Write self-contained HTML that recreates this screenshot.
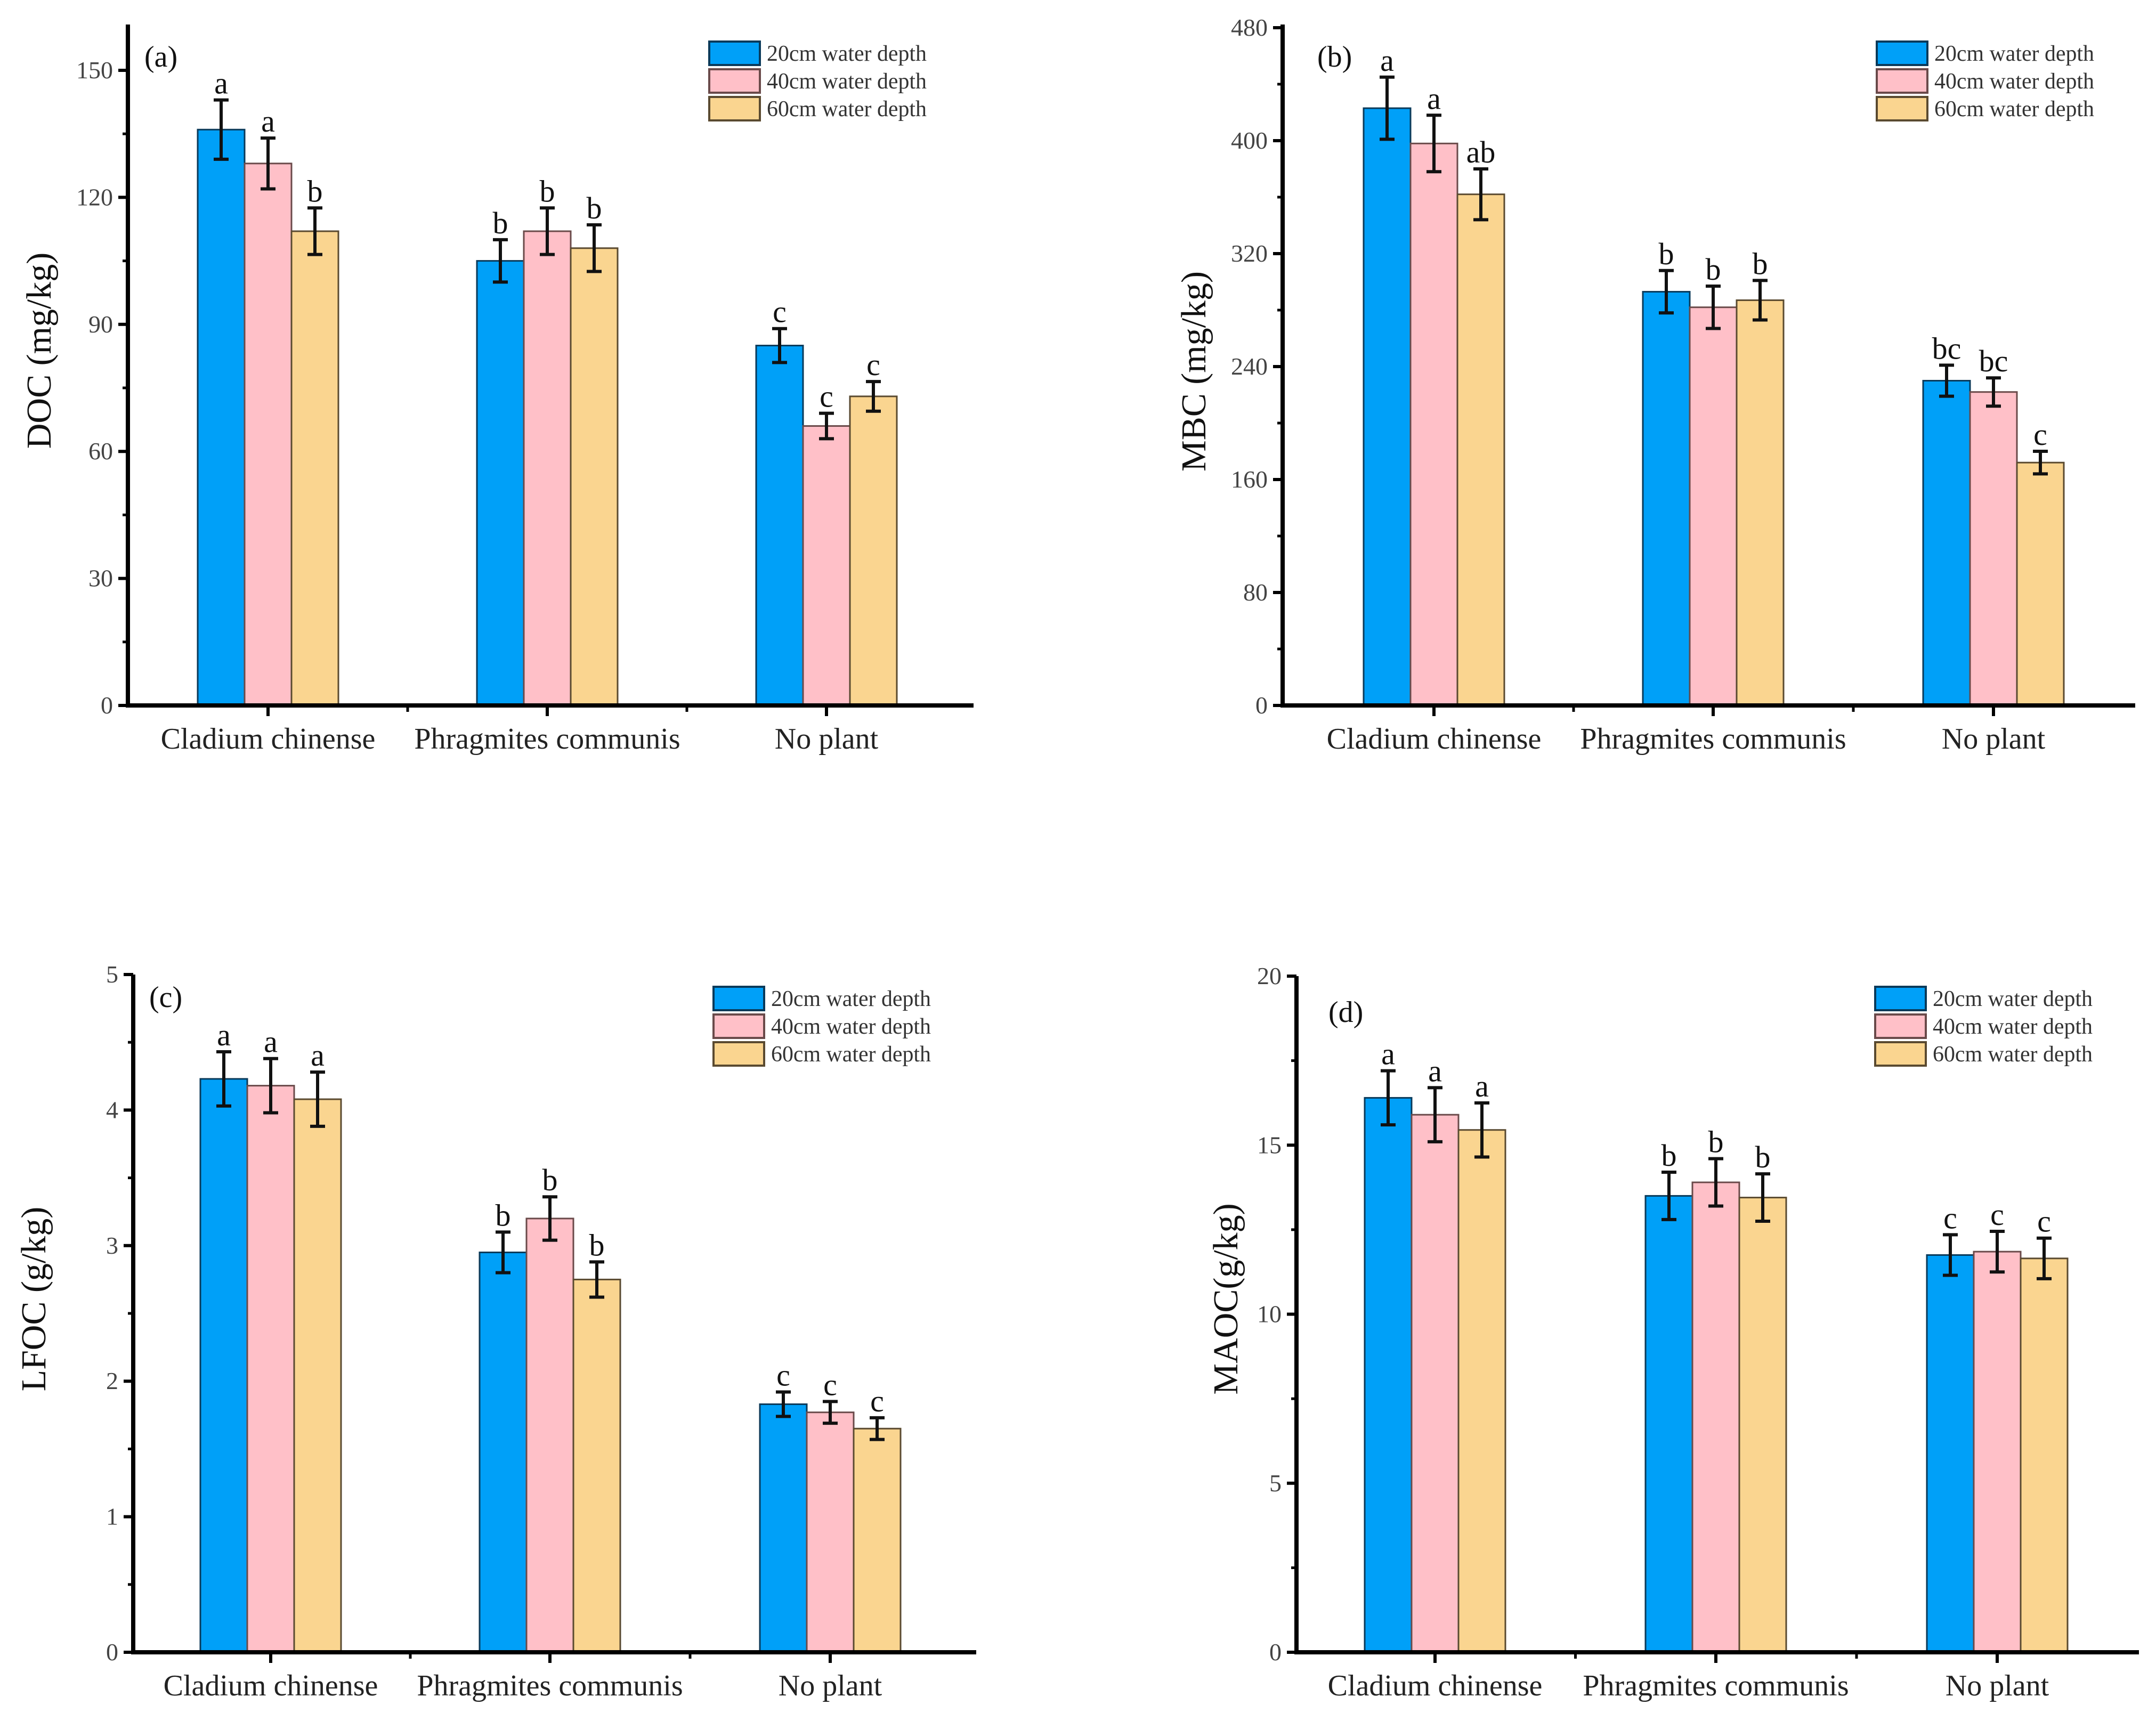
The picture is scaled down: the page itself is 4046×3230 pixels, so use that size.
<!DOCTYPE html>
<html><head><meta charset="utf-8">
<style>
html,body{margin:0;padding:0;background:#fff;}
svg{display:block;}
text{font-family:"Liberation Serif",serif;}
</style></head>
<body>
<svg id="fig" width="4046" height="3230" viewBox="0 0 4046 3230" xmlns="http://www.w3.org/2000/svg" font-family="Liberation Serif, serif"></svg>
<script>
const categories = ["Cladium chinense","Phragmites communis","No plant"];
const seriesNames = ["20cm water depth","40cm water depth","60cm water depth"];
const colors = ["#00A0F8","#FFC0C8","#FAD590"];
const edges = ["#0A3A5A","#6A4A4A","#5A4A30"];

const docVals20 = [136,105,85];
const docVals40 = [128,112,66];
const docVals60 = [112,108,73];
const docErr20 = [7,5,4];
const docErr40 = [6,5.5,3];
const docErr60 = [5.5,5.5,3.5];
const docLetters = [["a","a","b"],["b","b","b"],["c","c","c"]];
const docTicks = [0,30,60,90,120,150];

const mbcVals20 = [423,293,230];
const mbcVals40 = [398,282,222];
const mbcVals60 = [362,287,172];
const mbcErr20 = [22,15,11];
const mbcErr40 = [20,15,10];
const mbcErr60 = [18,14,8];
const mbcLetters = [["a","a","ab"],["b","b","b"],["bc","bc","c"]];
const mbcTicks = [0,80,160,240,320,400,480];

const lfocVals20 = [4.23,2.95,1.83];
const lfocVals40 = [4.18,3.2,1.77];
const lfocVals60 = [4.08,2.75,1.65];
const lfocErr20 = [0.2,0.15,0.09];
const lfocErr40 = [0.2,0.16,0.08];
const lfocErr60 = [0.2,0.13,0.08];
const lfocLetters = [["a","a","a"],["b","b","b"],["c","c","c"]];
const lfocTicks = [0,1,2,3,4,5];

const maocVals20 = [16.4,13.5,11.75];
const maocVals40 = [15.9,13.9,11.85];
const maocVals60 = [15.45,13.45,11.65];
const maocErr20 = [0.8,0.7,0.6];
const maocErr40 = [0.8,0.7,0.6];
const maocErr60 = [0.8,0.7,0.6];
const maocLetters = [["a","a","a"],["b","b","b"],["c","c","c"]];
const maocTicks = [0,5,10,15,20];

const NS="http://www.w3.org/2000/svg";
const svg=document.getElementById('fig');
function mk(tag,attrs,parent,txt){const e=document.createElementNS(NS,tag);for(const k in attrs)e.setAttribute(k,attrs[k]);if(tag==='text')e.setAttribute('font-family','Liberation Serif, serif');if(txt!==undefined)e.textContent=txt;(parent||svg).appendChild(e);return e;}

const panels=[
 {id:"a",label:"(a)",title:"DOC (mg/kg)",ax:240,x1:1827,y0:1324,yTop:46,vmax:150,vTopPix:132,ticks:docTicks,vals:[docVals20,docVals40,docVals60],errs:[docErr20,docErr40,docErr60],letters:docLetters,centers:[503,1027,1551],legX:1331,legY:78,labX:271,labY:125,titleX:95,titleY:658,catY:1405},
 {id:"b",label:"(b)",title:"MBC (mg/kg)",ax:2407,x1:4007,y0:1324,yTop:46,vmax:480,vTopPix:52,ticks:mbcTicks,vals:[mbcVals20,mbcVals40,mbcVals60],errs:[mbcErr20,mbcErr40,mbcErr60],letters:mbcLetters,centers:[2691,3215,3741],legX:3522,legY:78,labX:2472,labY:125,titleX:2262,titleY:697,catY:1405},
 {id:"c",label:"(c)",title:"LFOC (g/kg)",ax:250,x1:1832,y0:3101,yTop:1829,vmax:5,vTopPix:1829,ticks:lfocTicks,vals:[lfocVals20,lfocVals40,lfocVals60],errs:[lfocErr20,lfocErr40,lfocErr60],letters:lfocLetters,centers:[508,1032,1558],legX:1339,legY:1852,labX:280,labY:1890,titleX:85,titleY:2438,catY:3182},
 {id:"d",label:"(d)",title:"MAOC(g/kg)",ax:2433,x1:4014,y0:3101,yTop:1832,vmax:20,vTopPix:1832,ticks:maocTicks,vals:[maocVals20,maocVals40,maocVals60],errs:[maocErr20,maocErr40,maocErr60],letters:maocLetters,centers:[2693,3220,3748],legX:3519,legY:1852,labX:2493,labY:1918,titleX:2322,titleY:2438,catY:3182}
];
const BW=88;
panels.forEach(p=>{
  const g=mk('g',{});
  
  
  const y=v=>p.y0-(v/p.vmax)*(p.y0-p.vTopPix);
  for(let c=0;c<3;c++){
    for(let s=0;s<3;s++){
      const v=p.vals[s][c], e=p.errs[s][c];
      const bx=p.centers[c]+(s-1.5)*BW;
      const r=mk('rect',{x:bx,y:y(v),width:BW,height:p.y0-y(v),fill:colors[s],stroke:edges[s],'stroke-width':3},g);
      
      
      const cx=bx+BW/2;
      const eg=mk('g',{stroke:'#111','stroke-width':6},g);
      
      
      mk('line',{x1:cx,x2:cx,y1:y(v+e),y2:y(v-e)},eg);
      mk('line',{x1:cx-14,x2:cx+14,y1:y(v+e),y2:y(v+e)},eg);
      mk('line',{x1:cx-14,x2:cx+14,y1:y(v-e),y2:y(v-e)},eg);
      const t=mk('text',{x:cx,y:y(v+e)-12,'text-anchor':'middle','font-size':58,fill:'#111'},g,p.letters[c][s]);
      
      
    }
  }
  const ya=mk('line',{x1:p.ax,x2:p.ax,y1:p.yTop,y2:p.y0+4,stroke:'#000','stroke-width':8},g);
  
  
  const xa=mk('line',{x1:p.ax-4,x2:p.x1,y1:p.y0,y2:p.y0,stroke:'#000','stroke-width':8},g);
  
  
  p.ticks.forEach((tv,i)=>{
    mk('line',{x1:p.ax-18,x2:p.ax,y1:y(tv),y2:y(tv),stroke:'#000','stroke-width':6},g);
    if(i<p.ticks.length-1){const mv=(tv+p.ticks[i+1])/2;mk('line',{x1:p.ax-10,x2:p.ax,y1:y(mv),y2:y(mv),stroke:'#000','stroke-width':5},g);}
    const t=mk('text',{x:p.ax-28,y:y(tv)+15,'text-anchor':'end','font-size':46,fill:'#444'},g,String(tv));
    
    
  });
  p.centers.forEach((cx,i)=>{
    mk('line',{x1:cx,x2:cx,y1:p.y0,y2:p.y0+20,stroke:'#000','stroke-width':6},g);
    if(i<2){const mx=(cx+p.centers[i+1])/2;mk('line',{x1:mx,x2:mx,y1:p.y0,y2:p.y0+12,stroke:'#000','stroke-width':5},g);}
    const t=mk('text',{x:cx,y:p.catY,'text-anchor':'middle','font-size':56,fill:'#222'},g,categories[i]);
    
    
  });
  const yt=mk('text',{x:p.titleX,y:p.titleY,'text-anchor':'middle','font-size':66,fill:'#111',transform:`rotate(-90 ${p.titleX} ${p.titleY})`},g,p.title);
  
  
  const pl=mk('text',{x:p.labX,y:p.labY,'font-size':56,fill:'#111'},g,p.label);
  
  
  const lg=mk('g',{},g);
  
  
  for(let s=0;s<3;s++){
    const ly=p.legY+s*52;
    const e=mk('g',{},lg);
    
    
    mk('rect',{x:p.legX,y:ly,width:95,height:44,fill:colors[s],stroke:edges[s],'stroke-width':4},e);
    mk('text',{x:p.legX+108,y:ly+36,'font-size':42,fill:'#333',textLength:300,lengthAdjust:'spacingAndGlyphs'},e,seriesNames[s]);
  }
});
</script>
</body></html>
